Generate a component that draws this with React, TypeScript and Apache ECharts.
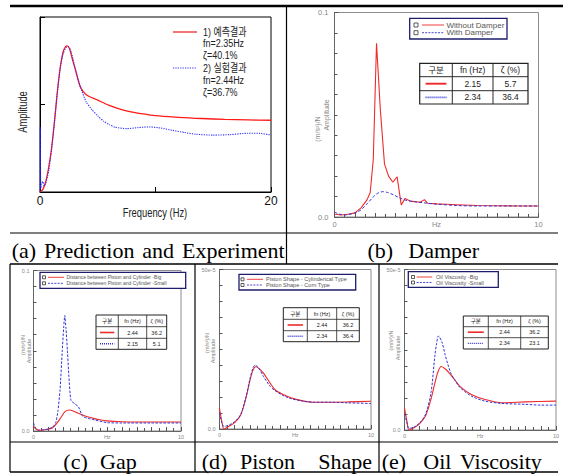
import React, { useEffect, useRef } from 'react';
import * as echarts from 'echarts';

const SANS = "'Liberation Sans', Arial, 'Noto Sans CJK KR', sans-serif";
const SERIF = "'Liberation Serif', 'Times New Roman', serif";

const RED = '#ee2a2a';
const BLUE = '#3434d4';

// ---------- (a) Prediction and Experiment ----------
const aPrediction: [number, number][] = [
  [0, 0], [0.25, 0.015], [0.5, 0.06], [0.75, 0.14], [1, 0.25], [1.25, 0.4], [1.5, 0.57], [1.75, 0.71],
  [2, 0.8], [2.2, 0.83], [2.35, 0.835], [2.55, 0.82], [2.8, 0.76], [3.1, 0.69], [3.5, 0.6], [4, 0.556],
  [5, 0.525], [6, 0.495], [7, 0.472], [8, 0.457], [10, 0.437], [12, 0.427], [14, 0.42], [16, 0.415],
  [18, 0.412], [20, 0.41],
];
const aExperiment: [number, number][] = [
  [0, 0], [0.02, 0.37], [0.07, 0.02], [0.15, 0.05], [0.25, 0.06], [0.35, 0.035], [0.5, 0.05], [0.75, 0.12],
  [1, 0.24], [1.25, 0.4], [1.5, 0.57], [1.75, 0.71], [2, 0.79], [2.25, 0.825], [2.45, 0.83], [2.7, 0.8],
  [3, 0.72], [3.5, 0.6], [4, 0.515], [4.5, 0.47], [5, 0.435], [5.5, 0.405], [6, 0.385], [6.5, 0.37],
  [7.5, 0.362], [8.5, 0.368], [9.5, 0.372], [10.5, 0.365], [11.5, 0.352], [12.5, 0.34], [13.5, 0.33],
  [15, 0.325], [16.5, 0.328], [18, 0.336], [19, 0.335], [20, 0.326],
];
const aLegendText = ['1) 예측결과', 'fn=2.35Hz', 'ζ=40.1%', '2) 실험결과', 'fn=2.44Hz', 'ζ=36.7%'];

// ---------- (b) Damper ----------
const bWithout: [number, number][] = [
  [0, 0.0015], [0.3, 0.001], [0.6, 0.0012], [1, 0.002], [1.3, 0.0045], [1.6, 0.0085], [1.75, 0.012],
  [1.9, 0.028], [2.06, 0.085], [2.25, 0.052], [2.45, 0.026], [2.65, 0.02], [2.86, 0.017], [3.07, 0.0197],
  [3.27, 0.0059], [3.46, 0.0091], [3.7, 0.0078], [3.92, 0.0075], [4.2, 0.0072], [4.41, 0.0085],
  [4.57, 0.0067], [5, 0.0064], [5.5, 0.0062], [6, 0.006], [7, 0.0056], [8, 0.0055], [9, 0.0054], [10, 0.0054],
];
const bWith: [number, number][] = [
  [0, 0.0025], [0.2, 0.0015], [0.5, 0.001], [1, 0.002], [1.3, 0.0035], [1.6, 0.0065], [1.9, 0.0098],
  [2.1, 0.0115], [2.37, 0.0124], [2.6, 0.012], [2.9, 0.0108], [3.2, 0.0093], [3.5, 0.0082], [4, 0.0074],
  [4.5, 0.0068], [5, 0.0063], [6, 0.0056], [7, 0.0054], [8, 0.0054], [10, 0.0054],
];
const bLegendText = ['Without Damper', 'With Damper'];
const bFn = ['2.15', '2.34'];
const bZeta = ['5.7', '36.4'];

// ---------- (c) Gap ----------
const cBig: [number, number][] = [
  [0, 0.003], [0.2, 0.001], [0.5, 0.0005], [1, 0.0012], [1.3, 0.002], [1.6, 0.005], [1.9, 0.009],
  [2.15, 0.0122], [2.42, 0.0131], [2.7, 0.0125], [3, 0.0112], [3.5, 0.0093], [4, 0.0081], [4.5, 0.007],
  [5, 0.0063], [6, 0.0058], [7, 0.0056], [8, 0.0056], [10, 0.0056],
];
const cSmall: [number, number][] = [
  [0, 0.005], [0.15, 0.002], [0.35, 0.0005], [0.7, 0.0008], [1, 0.0012], [1.3, 0.0025], [1.5, 0.005],
  [1.65, 0.012], [1.8, 0.0256], [1.95, 0.05], [2.05, 0.065], [2.12, 0.072], [2.2, 0.064], [2.3, 0.05],
  [2.4, 0.034], [2.54, 0.019], [2.8, 0.017], [3.05, 0.015], [3.35, 0.009], [3.9, 0.0075], [5, 0.0052],
  [6, 0.005], [8, 0.005], [10, 0.005],
];
const cLegendText = ['Distance between Piston and Cylinder -Big', 'Distance between Piston and Cylinder -Small'];
const cFn = ['2.44', '2.15'];
const cZeta = ['36.2', '5.1'];

// ---------- (d) Piston Shape (values in 1e-5) ----------
const dCylindrical: [number, number][] = [
  [0, 6.5], [0.15, 2.5], [0.3, 0], [0.6, 0.8], [1, 2], [1.4, 4.4], [1.76, 10], [2, 15], [2.2, 18.3],
  [2.4, 19.5], [2.6, 19], [2.9, 17.5], [3.34, 14.4], [3.67, 12.3], [4.2, 10.8], [4.66, 9.9], [5.43, 8.9],
  [6.2, 8.4], [7.3, 8.4], [8.5, 8.5], [10, 8.7],
];
const dCorn: [number, number][] = [
  [0, 5], [0.15, 2], [0.3, 0.8], [0.6, 1.2], [1, 2.3], [1.4, 4.6], [1.76, 10.3], [2, 15.5], [2.2, 19],
  [2.35, 20], [2.6, 19], [2.9, 16.5], [3.34, 13.4], [3.67, 12], [4.2, 10.5], [4.66, 9.6], [5.43, 8.8],
  [6.2, 8.4], [7.3, 8.4], [8.5, 8.2], [10, 8],
];
const dLegendText = ['Piston Shape - Cylinderical Type', 'Piston Shape - Corn Type'];
const dFn = ['2.44', '2.34'];
const dZeta = ['36.2', '36.4'];

// ---------- (e) Oil Viscosity (values in 1e-5) ----------
const eBig: [number, number][] = [
  [0, 6.8], [0.15, 3], [0.3, 0], [0.6, 0.6], [1, 2], [1.4, 4.5], [1.76, 9.8], [2, 14.5], [2.2, 18],
  [2.42, 19.8], [2.7, 19], [3, 17.5], [3.34, 15.5], [3.67, 13.5], [4.44, 11], [5.32, 9.5], [6.4, 8.5],
  [7.96, 8.75], [10, 9],
];
const eSmall: [number, number][] = [
  [0, 5], [0.15, 2.5], [0.3, 0.5], [0.6, 0.8], [1, 2.2], [1.4, 5], [1.76, 12], [2, 23], [2.12, 27],
  [2.24, 29.3], [2.46, 27.5], [2.68, 23.5], [2.86, 20.5], [3.08, 17.5], [3.4, 15], [3.67, 13.2],
  [4.44, 10.5], [5.32, 9], [6.4, 8.3], [7.96, 8], [9, 7.75], [10, 7.75],
];
const eLegendText = ['Oil Viscosity -Big', 'Oil Viscosity -Small'];
const eFn = ['2.44', '2.34'];
const eZeta = ['36.2', '23.1'];

const tableHeader = ['구분', 'fn (Hz)', 'ζ (%)'];
const yUnit = '(m/s²)/N';
const yName = 'Amplitude';

type El = Record<string, any>;

function txt(x: number, y: number, text: string, fs: number, opts: El = {}): El {
  return {
    type: 'text', x, y, z: 100, rotation: opts.rotation || 0, scaleX: opts.scaleX || 1,
    style: {
      text, fontSize: fs, fontFamily: opts.family || SANS, fill: opts.fill || '#222',
      align: opts.align || 'center', verticalAlign: opts.vAlign || 'middle',
    },
  };
}
function seg(x1: number, y1: number, x2: number, y2: number, stroke: string, lineWidth: number, dash?: number[]): El {
  return { type: 'line', z: 100, shape: { x1, y1, x2, y2 }, style: { stroke, lineWidth, lineDash: dash || null } };
}

function table(cols: number[], rows: number[], fn: string[], zeta: string[], fs: number, lw: number): El[] {
  const els: El[] = [];
  els.push({
    type: 'rect', z: 99,
    shape: { x: cols[0], y: rows[0], width: cols[3] - cols[0], height: rows[3] - rows[0] },
    style: { fill: '#fff', stroke: '#222', lineWidth: lw },
  });
  for (let i = 1; i < 3; i++) els.push(seg(cols[i], rows[0], cols[i], rows[3], '#222', lw * 0.8));
  for (let j = 1; j < 3; j++) els.push(seg(cols[0], rows[j], cols[3], rows[j], '#222', lw * 0.8));
  const cx = (i: number) => (cols[i] + cols[i + 1]) / 2;
  const cy = (j: number) => (rows[j] + rows[j + 1]) / 2;
  tableHeader.forEach((t, i) => els.push(txt(cx(i), cy(0), t, fs)));
  const pad = (cols[1] - cols[0]) * 0.18;
  els.push(seg(cols[0] + pad, cy(1), cols[1] - pad, cy(1), RED, lw * 1.6));
  els.push(seg(cols[0] + pad, cy(2), cols[1] - pad, cy(2), BLUE, lw * 1.4, [1, 1]));
  fn.forEach((v, k) => els.push(txt(cx(1), cy(k + 1), v, fs)));
  zeta.forEach((v, k) => els.push(txt(cx(2), cy(k + 1), v, fs)));
  return els;
}

function legend(box: number[], ys: number[], sqX: number, sq: number, ln: number[], tx: number, labels: string[], fs: number): El[] {
  const els: El[] = [];
  els.push({
    type: 'rect', z: 99,
    shape: { x: box[0], y: box[1], width: box[2] - box[0], height: box[3] - box[1] },
    style: { fill: '#fff', stroke: '#1d1d6e', lineWidth: 1.3 },
  });
  ys.forEach((y, k) => {
    els.push({ type: 'rect', z: 100, shape: { x: sqX, y: y - sq / 2, width: sq, height: sq }, style: { fill: 'none', stroke: '#333', lineWidth: 0.8 } });
    els.push(seg(ln[0], y, ln[1], y, k === 0 ? RED : BLUE, 0.9, k === 0 ? undefined : [2, 1.2]));
    els.push(txt(tx, y, labels[k], fs, { align: 'left', fill: '#555' }));
  });
  return els;
}

function yLabels(xOuter: number, yOuter: number, xInner: number, yInner: number, fs: number): El[] {
  return [
    txt(xOuter, yOuter, yUnit, fs, { rotation: Math.PI / 2, fill: '#888' }),
    txt(xInner, yInner, yName, fs, { rotation: Math.PI / 2, fill: '#888' }),
  ];
}

function smallX(idx: number, fs: number, margin: number) {
  return {
    gridIndex: idx, type: 'value', min: 0, max: 10, interval: 1,
    axisLine: { show: true, lineStyle: { color: '#666', width: 1 } },
    axisTick: { show: true, inside: true, length: 4, lineStyle: { color: '#555' } },
    minorTick: { show: true, splitNumber: 2, length: 3, lineStyle: { color: '#555' } },
    splitLine: { show: false },
    axisLabel: {
      fontSize: fs, color: '#888', margin, fontFamily: SANS,
      formatter: (v: number) => (v === 0 ? '0' : v === 5 ? 'Hz' : v === 10 ? '10' : ''),
    },
  };
}
function smallY(idx: number, max: number, topLabel: string, fs: number, margin: number) {
  return {
    gridIndex: idx, type: 'value', min: 0, max, interval: max,
    axisLine: { show: true, lineStyle: { color: '#666', width: 1 } },
    axisTick: { show: true, inside: true, length: 4, lineStyle: { color: '#555' } },
    minorTick: { show: true, splitNumber: 10, length: 3, lineStyle: { color: '#555' } },
    splitLine: { show: false },
    axisLabel: {
      fontSize: fs, color: '#888', margin, fontFamily: SANS,
      formatter: (v: number) => (v === 0 ? '0.0' : topLabel),
    },
  };
}
function lineSeries(idx: number, data: [number, number][], color: string, width: number, dash: any, smooth: number | boolean) {
  return {
    type: 'line', xAxisIndex: idx, yAxisIndex: idx, data, symbol: 'none', showSymbol: false,
    smooth, silent: true, clip: true,
    lineStyle: { color, width, type: dash },
  };
}

function buildOption() {
  const frame = { show: true, borderColor: '#8c8c8c', borderWidth: 1, backgroundColor: 'transparent' };
  const g: El[] = [];

  // page table rules
  g.push(seg(10, 6, 563, 6, '#000', 2.5));
  g.push(seg(10, 233, 558, 233, '#000', 1.2));
  g.push(seg(286.5, 6, 286.5, 264, '#000', 1.2));
  g.push(seg(10, 264, 558, 264, '#000', 1.6));
  g.push(seg(10, 264, 10, 472, '#000', 1.2));
  g.push(seg(195, 264, 195, 472, '#000', 1.2));
  g.push(seg(379, 264, 379, 472, '#000', 1.2));
  g.push(seg(10, 442, 558, 442, '#000', 1.2));
  g.push(seg(10, 472, 558, 472, '#000', 1.6));

  // captions
  const capTop = 250, capBot = 461, capFs = 22;
  const cap = (x: number, y: number, t: string) => txt(x, y, t, capFs, { family: SERIF, align: 'left', fill: '#000' });
  g.push(cap(11.7, capTop, '(a)'), cap(44, capTop, 'Prediction'), cap(142.3, capTop, 'and'), cap(182, capTop, 'Experiment'));
  g.push(cap(367.5, capTop, '(b)'), cap(408.3, capTop, 'Damper'));
  g.push(cap(63.3, capBot, '(c)'), cap(100, capBot, 'Gap'));
  g.push(cap(201.7, capBot, '(d)'), cap(240, capBot, 'Piston'), cap(318.3, capBot, 'Shape'));
  g.push(cap(381.7, capBot, '(e)'), cap(423.3, capBot, 'Oil'), cap(460, capBot, 'Viscosity'));

  // (a) legend and axis names (condensed)
  const narrow = 0.78;
  g.push(seg(173, 32, 197, 32, RED, 1.3));
  g.push(seg(173, 68, 197, 68, '#2b2bff', 1.2, [1.2, 1.2]));
  const aYs = [32, 43.5, 55.5, 68, 80, 92];
  aLegendText.forEach((t, k) => g.push(txt(203, aYs[k], t, 11.5, { align: 'left', fill: '#222', scaleX: narrow })));
  g.push(txt(23, 112, 'Amplitude', 12, { rotation: Math.PI / 2, scaleX: narrow }));
  g.push(txt(155, 213, 'Frequency (Hz)', 12, { scaleX: narrow }));

  // (b)
  g.push(...legend([409.7, 18.3, 507, 39], [25, 32.7], 414, 4, [422, 444], 446.5, bLegendText, 8));
  g.push(...table([419.7, 452.3, 493, 528], [63.3, 76.7, 90.7, 104], bFn, bZeta, 8.5, 1.2));
  g.push(...yLabels(317, 129, 326, 115, 7));

  // (c)
  g.push(...legend([40, 272.3, 185.7, 288.3], [277.3, 283.3], 42.5, 3, [48, 64], 66.5, cLegendText, 5));
  g.push(...table([96, 118.3, 146.7, 166.7], [315, 326.7, 338.3, 349.3], cFn, cZeta, 5.5, 1));
  g.push(...yLabels(22.7, 345, 28.5, 351, 5.5));

  // (d)
  g.push(...legend([239, 274.3, 355.7, 290], [279.3, 285], 241, 3, [247, 263], 266, dLegendText, 5.6));
  g.push(...table([283.3, 307.3, 336.7, 359.3], [307.7, 319.3, 330.7, 341.7], dFn, dZeta, 5.5, 1));
  g.push(...yLabels(207.3, 343, 212.9, 351, 5.5));

  // (e)
  g.push(...legend([408.3, 271.7, 498.3, 287.3], [277, 282.5], 411.5, 3, [416.7, 432.3], 436, eLegendText, 5.6));
  g.push(...table([463.3, 488.3, 520.7, 548.3], [316, 326.7, 337.7, 349], eFn, eZeta, 5.5, 1));
  g.push(...yLabels(391, 340.5, 397.7, 348, 5.5));

  return {
    animation: false,
    backgroundColor: '#fff',
    grid: [
      { left: 40, top: 17, width: 231, height: 175, show: true, borderColor: '#000', borderWidth: 1, backgroundColor: 'transparent' },
      { left: 334.5, top: 12.5, width: 204, height: 204.5, ...frame },
      { left: 33.5, top: 270.5, width: 147.5, height: 160.5, ...frame },
      { left: 219.5, top: 269.5, width: 151.5, height: 159.5, ...frame },
      { left: 404.5, top: 269.5, width: 151.5, height: 160.5, ...frame },
    ],
    xAxis: [
      {
        gridIndex: 0, type: 'value', min: 0, max: 20, interval: 10,
        axisLine: { show: true, lineStyle: { color: '#000' } },
        axisTick: { show: true, inside: true, length: 5, lineStyle: { color: '#000' } },
        splitLine: { show: false },
        axisLabel: { fontSize: 12, color: '#111', margin: 3, fontFamily: SANS, formatter: (v: number) => (v === 10 ? '' : String(v)) },
      },
      smallX(1, 7.5, 4),
      smallX(2, 5.5, 3),
      smallX(3, 5.5, 3),
      smallX(4, 5.5, 3),
    ],
    yAxis: [
      {
        gridIndex: 0, type: 'value', min: 0, max: 1, interval: 0.5,
        axisLine: { show: true, lineStyle: { color: '#000' } },
        axisTick: { show: true, inside: true, length: 5, lineStyle: { color: '#000' } },
        splitLine: { show: false },
        axisLabel: { show: false },
      },
      smallY(1, 0.1, '0.1', 7.5, 6),
      smallY(2, 0.1, '0.1', 5.5, 4),
      smallY(3, 50, '50e-5', 5.5, 4),
      smallY(4, 50, '50e-5', 5.5, 4),
    ],
    series: [
      lineSeries(0, aPrediction, '#ff1a1a', 1.3, 'solid', 0.3),
      lineSeries(0, aExperiment, '#2b2bff', 1.1, [1.2, 1.2], 0.2),
      lineSeries(1, bWithout, RED, 1.1, 'solid', false),
      lineSeries(1, bWith, BLUE, 1, [3, 2], 0.3),
      lineSeries(2, cBig, RED, 1.1, 'solid', 0.3),
      lineSeries(2, cSmall, BLUE, 1, [2.5, 1.5], 0.2),
      lineSeries(3, dCylindrical, RED, 1.1, 'solid', 0.3),
      lineSeries(3, dCorn, BLUE, 1, [2.5, 1.5], 0.3),
      lineSeries(4, eBig, RED, 1.1, 'solid', 0.3),
      lineSeries(4, eSmall, BLUE, 1, [2.5, 1.5], 0.3),
    ],
    graphic: { elements: g },
  };
}

export default function App() {
  const ref = useRef<HTMLDivElement>(null);
  useEffect(() => {
    const chart = echarts.init(ref.current!, null, { renderer: 'svg', width: 567, height: 475 });
    chart.setOption(buildOption() as any);
    return () => chart.dispose();
  }, []);
  return (
    <div
      ref={ref}
      style={{ position: 'absolute', left: 0, top: 0, width: 567, height: 475, background: '#fff' }}
    />
  );
}
